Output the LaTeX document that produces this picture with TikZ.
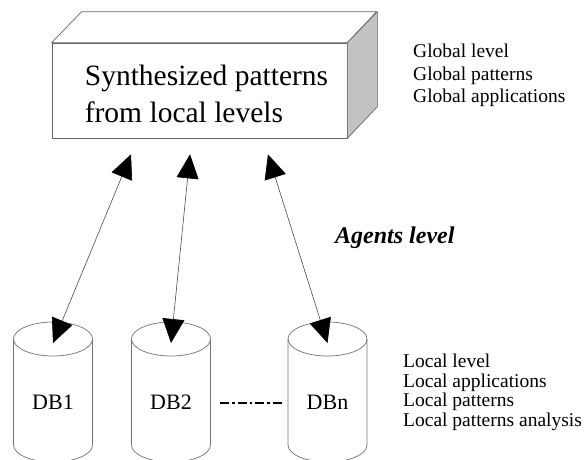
\documentclass[tikz,border=0pt]{standalone}
\usepackage{fontspec}
\setmainfont{Liberation Serif}
\usetikzlibrary{calc, arrows.meta, positioning}

\begin{document}
\begin{tikzpicture}[x=1pt, y=-1pt]

    % Styles
    \tikzset{
        edge/.style={draw=black!60, line width=0.7pt, line join=round},
        frontface/.style={rectangle, edge, fill=white, minimum width=295pt, minimum height=95pt, inner sep=0pt},
        sideface/.style={edge, fill=black!24},
        topface/.style={edge, fill=white},
        titletext/.style={font=\fontsize{29.5}{37}\selectfont, align=left, inner sep=0pt, anchor=north west},
        dbnode/.style={rectangle, minimum width=79pt, minimum height=140pt, inner sep=0pt, font=\fontsize{22}{26}\selectfont},
        dbline/.style={draw=black!55, line width=0.7pt},
        infotext/.style={align=left, inner sep=0pt, anchor=north west},
        biarrow/.style={{Triangle[length=24pt,width=22pt,color=black]}-{Triangle[length=24pt,width=22pt,color=black]}, draw=black!70, line width=0.6pt},
        dashdot/.style={line width=2.6pt, dash pattern=on 9pt off 3pt on 2.5pt off 3pt}
    }

    \fill[white] (0,0) rectangle (586,459);
    \clip (0,0) rectangle (586,459);

    % Global level box
    \node[frontface] (front) at (199.5,90.5) {};
    \draw[topface] (front.north west) -- ++(30,-31) -- ++(295,0) -- (front.north east) -- cycle;
    \draw[sideface] (front.north east) -- ++(30,-31) -- ++(0,95) -- (front.south east) -- cycle;
    \node[titletext] (title) at ($(front.north west)+(33,22)$) {Synthesized patterns\\from local levels};

    \node[infotext, font=\fontsize{19.5}{22.5}\selectfont] (global) at (413,44) {Global level\\Global patterns\\Global applications};

    % Agents
    \node[font=\fontsize{24}{28}\selectfont\bfseries\itshape, anchor=base west, inner sep=0pt] (agents) at (335,243) {Agents level};

    % Databases
    \foreach \n/\x/\lbl in {db1/53/DB1, db2/171/DB2, dbn/327.5/DBn} {
        \node[dbnode] (\n) at (\x,402) {\lbl};
        \draw[dbline] ($(\n)+(0,-63)$) ellipse [x radius=39.5, y radius=17];
        \draw[dbline] ($(\n)+(-39.5,-63)$) -- ($(\n)+(-39.5,43)$) arc [start angle=180, end angle=0, x radius=39.5, y radius=17] -- ($(\n)+(39.5,-63)$);
    }

    % Local level
    \node[infotext, font=\fontsize{19.5}{19.5}\selectfont] (local) at (403,354) {Local level\\Local applications\\Local patterns\\Local patterns analysis};

    % DB2 ... DBn
    \draw[dashdot, shorten <=9.5pt, shorten >=4pt] ($(db2.east)+(0,1)$) -- ($(dbn.west)+(0,1)$);

    % Arrows
    \foreach \n/\dx in {db1/-68.5, db2/-9.5, dbn/68.5} {
        \draw[biarrow] ($(\n)+(0,-59)$) -- ($(front.south)+(\dx,16)$);
    }

\end{tikzpicture}
\end{document}
